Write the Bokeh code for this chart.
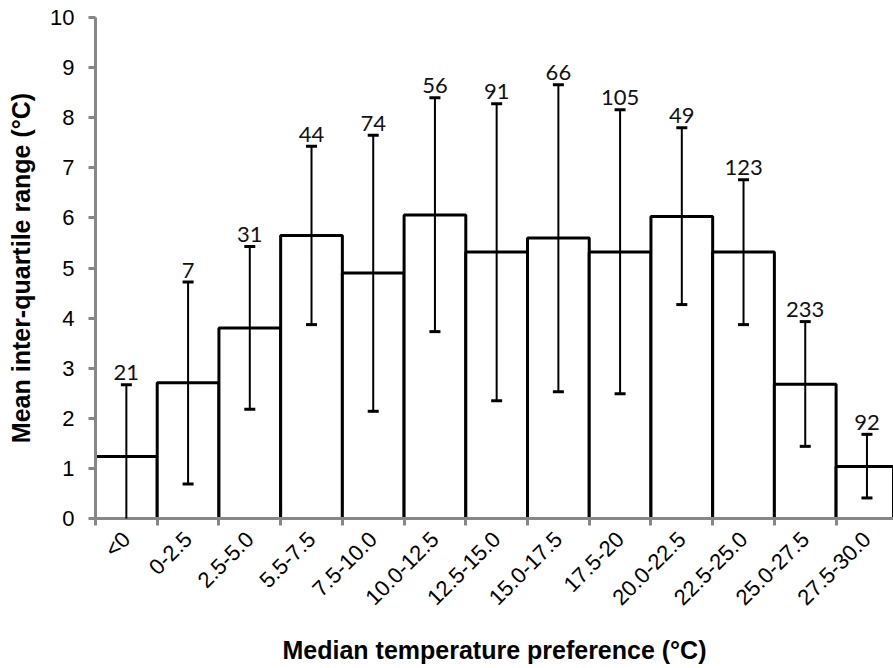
from bokeh.plotting import figure
from bokeh.models import Range1d, FixedTicker, Whisker, ColumnDataSource, TeeHead
from bokeh.embed import file_html
from bokeh.resources import INLINE
from bokeh.core.properties import value

categories = ["<0", "0-2.5", "2.5-5.0", "5.5-7.5", "7.5-10.0", "10.0-12.5", "12.5-15.0",
              "15.0-17.5", "17.5-20", "20.0-22.5", "22.5-25.0", "25.0-27.5", "27.5-30.0"]
mean_iqr = [1.24, 2.71, 3.80, 5.65, 4.90, 6.06, 5.32, 5.60, 5.32, 6.03, 5.32, 2.68, 1.04]
err_upper = [2.67, 4.72, 5.43, 7.43, 7.65, 8.40, 8.28, 8.66, 8.16, 7.80, 6.76, 3.93, 1.68]
err_lower = [-0.3, 0.69, 2.18, 3.87, 2.14, 3.73, 2.35, 2.53, 2.49, 4.27, 3.87, 1.44, 0.41]
counts = ["21", "7", "31", "44", "74", "56", "91", "66", "105", "49", "123", "233", "92"]
y_ticks = list(range(0, 11))

centers = [i + 0.5 for i in range(len(categories))]
edges = list(range(len(categories) + 1))

src = ColumnDataSource(dict(x=centers, top=mean_iqr, upper=err_upper, lower=err_lower, count=counts))

p = figure(width=893, height=668, x_range=Range1d(0, 12.93), y_range=Range1d(0, 10),
           output_backend="svg", toolbar_location=None, title=None,
           min_border_left=95, min_border_right=0, min_border_top=17, min_border_bottom=150)
p.outline_line_color = None
p.xgrid.grid_line_color = None
p.ygrid.grid_line_color = None

p.vbar(x="x", top="top", bottom=0, width=1.0, source=src, fill_color="white",
       line_color="black", line_width=3)

head_u = TeeHead(size=11, line_width=3, line_color="black")
head_l = TeeHead(size=11, line_width=3, line_color="black")
w = Whisker(base="x", upper="upper", lower="lower", source=src, line_width=2,
            line_color="black", upper_head=head_u, lower_head=head_l, level="overlay")
p.add_layout(w)

p.text(x="x", y="upper", text="count", source=src, text_font=value("Lato"),
       text_font_size="22px", text_align="center", text_baseline="alphabetic",
       y_offset=-12, text_color="#111111")

axis_gray = "#878787"

xa = p.xaxis[0]
xa.ticker = FixedTicker(ticks=centers, minor_ticks=edges)
xa.major_label_overrides = {c: lab for c, lab in zip(centers, categories)}
xa.major_label_orientation = 0.7853981634
xa.major_tick_line_color = None
xa.minor_tick_line_color = axis_gray
xa.minor_tick_line_width = 3
xa.minor_tick_out = 7
xa.minor_tick_in = 0
xa.axis_line_color = axis_gray
xa.axis_line_width = 3
xa.major_label_text_font = "Liberation Sans"
xa.major_label_text_font_size = "22px"
xa.major_label_text_color = "black"
xa.major_label_standoff = 10
xa.axis_label = "Median temperature preference (°C)"
xa.axis_label_text_font = "Liberation Sans"
xa.axis_label_text_font_style = "bold"
xa.axis_label_text_font_size = "25px"
xa.axis_label_text_color = "black"
xa.axis_label_standoff = 14

ya = p.yaxis[0]
ya.ticker = FixedTicker(ticks=y_ticks)
ya.minor_tick_line_color = None
ya.major_tick_line_color = axis_gray
ya.major_tick_line_width = 3
ya.major_tick_out = 7
ya.major_tick_in = 0
ya.axis_line_color = axis_gray
ya.axis_line_width = 3
ya.major_label_text_font = "Liberation Sans"
ya.major_label_text_font_size = "22px"
ya.major_label_text_color = "black"
ya.major_label_standoff = 14
ya.axis_label = "Mean inter-quartile range (°C)"
ya.axis_label_text_font = "Liberation Sans"
ya.axis_label_text_font_style = "bold"
ya.axis_label_text_font_size = "25px"
ya.axis_label_text_color = "black"
ya.axis_label_standoff = 12

open("out.html", "w").write(file_html(p, INLINE))
